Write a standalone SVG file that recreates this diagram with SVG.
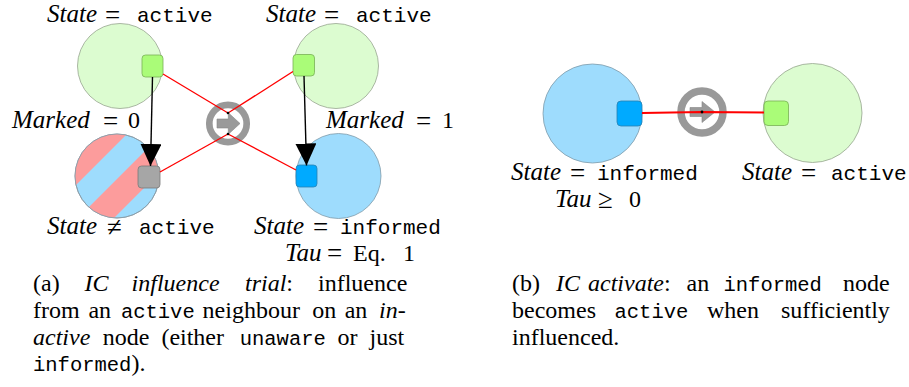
<svg xmlns="http://www.w3.org/2000/svg" width="909" height="387" viewBox="0 0 909 387">
<style>
.lbl{font-family:"Liberation Serif",serif;font-size:24px;fill:#000}
.mi{font-style:italic}
.lbl .mi{font-size:25px}
.op{font-size:27px}
.tt{font-family:"Liberation Mono",monospace;font-size:21px}
.cap{font-family:"Liberation Serif",serif;font-size:24px;fill:#000}
.cap .tt{font-size:20.5px}
.gc{fill:#dcfcd0;stroke:#97a58f;stroke-width:0.8}
.bc{fill:#9edcfd;stroke:#7f9aaa;stroke-width:0.8}
.pk{fill:#fc9c9c}
.gs{fill:#aafc78;stroke:#79b055;stroke-width:0.8}
.bs{fill:#00aaff;stroke:#2a80b0;stroke-width:0.8}
.ys{fill:#a6a6a6;stroke:#7a7a7a;stroke-width:0.8}
.red{stroke:#ff0000;stroke-width:1.3;fill:none}
.red2{stroke:#ff0000;stroke-width:2.2;fill:none}
.blk{stroke:#000;stroke-width:1.4;fill:none;marker-end:url(#ah)}
.ring{fill:#fff;stroke:#999}
.arr{fill:#9a9a9a;stroke:#858585;stroke-width:0.6}
.dot{fill:#000}
</style>
<defs>
<marker id="ah" markerUnits="userSpaceOnUse" markerWidth="22" markerHeight="21" refX="22" refY="10.5" orient="auto" viewBox="0 0 22 21"><path d="M0,0L22,10.5L0,21z" fill="#000"/></marker>
<clipPath id="blclip"><circle cx="117" cy="176" r="42"/></clipPath>
</defs>

<g id="node-a-tl">
<circle class="gc" cx="120" cy="66" r="42.5"/>
<rect class="gs" x="142" y="55" width="21" height="22" rx="3.5"/>
<text class="lbl"><tspan class="mi" x="47" y="22">State</tspan><tspan class="op" x="105" y="23.5">=</tspan><tspan class="tt" x="137" y="22">active</tspan></text>
<text class="lbl"><tspan class="mi" x="12" y="128">Marked</tspan><tspan class="op" x="103" y="129.5">=</tspan><tspan x="128" y="128">0</tspan></text>
</g>

<g id="node-a-tr">
<circle class="gc" cx="336" cy="66" r="42.5"/>
<rect class="gs" x="293" y="54.5" width="21.5" height="21.5" rx="3.5"/>
<text class="lbl"><tspan class="mi" x="266" y="22">State</tspan><tspan class="op" x="324" y="23.5">=</tspan><tspan class="tt" x="356" y="22">active</tspan></text>
<text class="lbl"><tspan class="mi" x="326" y="128">Marked</tspan><tspan class="op" x="416" y="129.5">=</tspan><tspan x="442" y="128">1</tspan></text>
</g>

<g id="node-a-bl">
<circle class="bc" cx="117" cy="176" r="42"/>
<g clip-path="url(#blclip)">
<polygon class="pk" points="70,130 131,130 70,191"/>
<polygon class="pk" points="166,130 202,130 70,262 70,226"/>
</g>
<circle cx="117" cy="176" r="42" fill="none" stroke="#8a9aa5" stroke-width="0.8"/>
<rect class="ys" x="138" y="166" width="22" height="22" rx="3.5"/>
<text class="lbl"><tspan class="mi" x="47" y="234">State</tspan><tspan class="op" x="107" y="235.5">≠</tspan><tspan class="tt" x="139" y="234">active</tspan></text>
</g>

<g id="node-a-br">
<circle class="bc" cx="338.5" cy="176" r="42.5"/>
<rect class="bs" x="296" y="165" width="21" height="22" rx="3.5"/>
<text class="lbl"><tspan class="mi" x="254" y="234">State</tspan><tspan class="op" x="313" y="235.5">=</tspan><tspan class="tt" x="340" y="234">informed</tspan></text>
<text class="lbl"><tspan class="mi" x="285" y="260.5">Tau</tspan><tspan class="op" x="327" y="262">=</tspan><tspan x="353" y="260.5">Eq.</tspan><tspan x="403" y="260.5">1</tspan></text>
</g>

<g id="rule-a">
<circle class="ring" cx="228" cy="123.5" r="18.7" stroke-width="6.7"/>
<path class="arr" d="M217,119L228.3,119L228.3,112.7L240,123.5L228.3,134.3L228.3,128L217,128Z"/>
</g>

<g id="node-b-informed">
<circle class="bc" cx="592.5" cy="113.5" r="49.5"/>
<rect class="bs" x="617" y="101" width="25" height="25" rx="4"/>
<text class="lbl"><tspan class="mi" x="511" y="180">State</tspan><tspan class="op" x="570" y="181.5">=</tspan><tspan class="tt" x="597" y="180">informed</tspan></text>
<text class="lbl"><tspan class="mi" x="555" y="207">Tau</tspan><tspan class="op" x="598" y="208">≥</tspan><tspan x="629" y="207">0</tspan></text>
</g>

<g id="rule-b">
<circle class="ring" cx="702" cy="112" r="21" stroke-width="7.5"/>
<path class="arr" d="M690,107.5L702,107.5L702,101.5L715,112L702,122.5L702,116.5L690,116.5Z"/>
</g>

<g id="node-b-active">
<circle class="gc" cx="812.5" cy="113" r="49.5"/>
<rect class="gs" x="764" y="101" width="24.5" height="24.5" rx="4"/>
<text class="lbl"><tspan class="mi" x="742" y="180">State</tspan><tspan class="op" x="801" y="181.5">=</tspan><tspan class="tt" x="831" y="180">active</tspan></text>
</g>

<g id="connectors">
<polyline class="red" points="163,74 228,113"/>
<polyline class="red" points="293,71.5 228,113"/>
<polyline class="red" points="228,134 160,172"/>
<polyline class="red" points="228,134 296,170"/>
<circle class="dot" cx="228" cy="113" r="1.3"/>
<circle class="dot" cx="228" cy="134" r="1.3"/>
<line class="blk" x1="152.5" y1="77" x2="150.5" y2="166"/>
<line class="blk" x1="304" y1="76" x2="306.5" y2="165.5"/>
<polyline class="red2" points="642,113 702,112 764,112.5"/>
<circle class="dot" cx="702" cy="112" r="1.4"/>
</g>

<g id="caption-a" class="cap">
<text y="291"><tspan x="33">(a)</tspan><tspan class="mi" x="84.5">IC</tspan><tspan class="mi" x="131.6">influence</tspan><tspan class="mi" x="245">trial</tspan><tspan>:</tspan><tspan x="318">influence</tspan></text>
<text y="318"><tspan x="33">from</tspan><tspan x="88.4">an</tspan><tspan class="tt" x="120.9">active</tspan><tspan x="202.6">neighbour</tspan><tspan x="312.2">on</tspan><tspan x="344.7">an</tspan><tspan class="mi" x="379">in-</tspan></text>
<text y="344.5"><tspan class="mi" x="33">active</tspan><tspan x="102.8">node</tspan><tspan x="161.4">(either</tspan><tspan class="tt" x="239.7">unaware</tspan><tspan x="337.5">or</tspan><tspan x="369.5">just</tspan></text>
<text y="371"><tspan class="tt" x="33">informed</tspan><tspan>).</tspan></text>
</g>

<g id="caption-b" class="cap">
<text y="291"><tspan x="512">(b)</tspan><tspan class="mi" x="556">IC</tspan><tspan class="mi" x="588">activate</tspan><tspan>:</tspan><tspan x="686.5">an</tspan><tspan class="tt" x="723.5">informed</tspan><tspan x="843">node</tspan></text>
<text y="318"><tspan x="512">becomes</tspan><tspan class="tt" x="614.5">active</tspan><tspan x="707">when</tspan><tspan x="781">sufficiently</tspan></text>
<text y="344.5"><tspan x="512">influenced.</tspan></text>
</g>
</svg>
